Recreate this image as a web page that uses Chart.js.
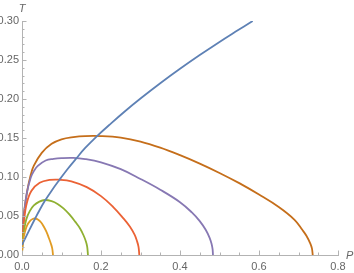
<!DOCTYPE html>
<html>
<head>
<meta charset="utf-8">
<script src="https://cdn.jsdelivr.net/npm/chart.js@4"></script>
<style>
html,body{margin:0;padding:0;background:#fff;}
#wrap{width:354px;height:273px;position:relative;}
</style>
</head>
<body>
<div id="wrap"><canvas id="c" width="354" height="273"></canvas></div>
<script>
// Axis ticks
const xTicks = [0, 0.2, 0.4, 0.6, 0.8];
const yTicks = [0, 0.05, 0.10, 0.15, 0.20, 0.25, 0.30];
const xLabel = "P";
const yLabel = "T";

// Series: [P, T]
const blueCurve = [[0,0.0128],[0.01,0.0232],[0.02,0.0335],[0.033,0.0465],[0.045,0.058],[0.058,0.0695],[0.075,0.0825],[0.095,0.0965],[0.115,0.11],[0.137,0.1235],[0.16,0.1372],[0.19,0.1525],[0.22,0.1663],[0.26,0.184],[0.30,0.2006],[0.35,0.2202],[0.40,0.2387],[0.45,0.2563],[0.50,0.2732],[0.54,0.2861],[0.584,0.30]];
const orangeArc = [[0,0],[0.001,0.011],[0.003,0.019],[0.0076,0.03],[0.013,0.038],[0.02,0.0435],[0.027,0.0462],[0.033,0.0468],[0.04,0.0455],[0.048,0.042],[0.055,0.0365],[0.062,0.0295],[0.068,0.0218],[0.073,0.0148],[0.0765,0.0085],[0.0785,0]];
const greenArc = [[0,0],[0.002,0.02],[0.005,0.031],[0.011,0.046],[0.02,0.0565],[0.03,0.0635],[0.044,0.0685],[0.058,0.0705],[0.075,0.069],[0.09,0.0655],[0.105,0.0598],[0.12,0.052],[0.135,0.0425],[0.147,0.034],[0.156,0.025],[0.162,0.017],[0.165,0.0107],[0.167,0]];
const redArc = [[0,0],[0.002,0.027],[0.005,0.043],[0.011,0.064],[0.0236,0.082],[0.0447,0.0925],[0.07,0.0962],[0.095,0.0965],[0.125,0.0945],[0.164,0.087],[0.2,0.0755],[0.231,0.0615],[0.255,0.048],[0.273,0.0365],[0.285,0.026],[0.291,0.018],[0.295,0.0105],[0.297,0]];
const purpleArc = [[0,0],[0.002,0.0335],[0.005,0.052],[0.012,0.079],[0.022,0.099],[0.03,0.1075],[0.04,0.1143],[0.06,0.1212],[0.08,0.1232],[0.1,0.1242],[0.13,0.1245],[0.16,0.123],[0.2,0.1188],[0.25,0.11],[0.3,0.0975],[0.35,0.0837],[0.4,0.0677],[0.43,0.0546],[0.45,0.0434],[0.465,0.0323],[0.475,0.022],[0.48,0.0141],[0.4825,0.0075],[0.4835,0]];
const brownArc = [[0,0],[0.002,0.035],[0.005,0.054],[0.0135,0.083],[0.022,0.1025],[0.03,0.1145],[0.05,0.131],[0.075,0.1425],[0.1,0.1483],[0.13,0.1512],[0.16,0.1525],[0.2,0.1525],[0.25,0.1505],[0.3,0.1455],[0.35,0.1377],[0.4,0.128],[0.45,0.1172],[0.5,0.1052],[0.55,0.0921],[0.6,0.0775],[0.65,0.0615],[0.69,0.0451],[0.71,0.032],[0.72,0.0247],[0.73,0.0147],[0.734,0.0085],[0.736,0]];

const series = [
  {data: blueCurve, color: '#5E81B5'},
  {data: orangeArc, color: '#E19C24'},
  {data: greenArc, color: '#8FB032'},
  {data: redArc, color: '#EB6235'},
  {data: purpleArc, color: '#8778B3'},
  {data: brownArc, color: '#C56E1A'}
];

const axisColor = '#b3b3b3';
const textColor = '#666666';
const fontFamily = '"Liberation Sans", Arial, sans-serif';

const tickPlugin = {
  id: 'mmaTicks',
  afterDraw(chart) {
    const ctx = chart.ctx;
    const xs = chart.scales.x, ys = chart.scales.y;
    const a = chart.chartArea;
    ctx.save();
    ctx.strokeStyle = axisColor;
    ctx.lineWidth = 1;
    ctx.beginPath();
    for (let i = 0; i <= 16; i++) {
      const v = i * 0.05;
      const px = Math.round(xs.getPixelForValue(v)) + 0.5;
      const len = (i % 4 === 0) ? 4.5 : 2.5;
      ctx.moveTo(px, a.bottom);
      ctx.lineTo(px, a.bottom - len);
    }
    for (let i = 0; i <= 30; i++) {
      const v = i * 0.01;
      const py = Math.round(ys.getPixelForValue(v)) + 0.5;
      const len = (i % 5 === 0) ? 4.5 : 2.5;
      ctx.moveTo(a.left, py);
      ctx.lineTo(a.left + len, py);
    }
    ctx.stroke();
    ctx.fillStyle = textColor;
    ctx.font = 'italic 11px ' + fontFamily;
    ctx.textAlign = 'center';
    ctx.textBaseline = 'alphabetic';
    ctx.fillText(yLabel, a.left, 12);
    ctx.textAlign = 'left';
    ctx.textBaseline = 'middle';
    ctx.fillText(xLabel, a.right + 8, a.bottom + 1);
    ctx.restore();
  }
};

new Chart(document.getElementById('c'), {
  type: 'scatter',
  data: {
    datasets: series.map(s => ({
      data: s.data.map(p => ({x: p[0], y: p[1]})),
      showLine: true,
      borderColor: s.color,
      backgroundColor: s.color,
      borderWidth: 1.8,
      pointRadius: 0,
      pointHoverRadius: 0,
      tension: 0.4,
      fill: false
    }))
  },
  options: {
    responsive: false,
    animation: false,
    events: [],
    layout: {padding: {top: 21, right: 16, left: 0, bottom: 0}},
    plugins: {legend: {display: false}, tooltip: {enabled: false}},
    scales: {
      x: {
        type: 'linear', min: 0, max: 0.8,
        afterBuildTicks: s => { s.ticks = xTicks.map(v => ({value: v})); },
        afterFit: s => { s.height = 18; },
        grid: {display: false, drawTicks: false},
        border: {display: true, color: axisColor, width: 1},
        ticks: {
          color: textColor, padding: 5, maxRotation: 0, autoSkip: false,
          font: {family: fontFamily, size: 11},
          callback: v => Number(v).toFixed(1)
        }
      },
      y: {
        type: 'linear', min: 0, max: 0.30,
        afterBuildTicks: s => { s.ticks = yTicks.map(v => ({value: v})); },
        afterFit: s => { s.width = 22; },
        grid: {display: false, drawTicks: false},
        border: {display: true, color: axisColor, width: 1},
        ticks: {
          color: textColor, padding: 3, autoSkip: false,
          font: {family: fontFamily, size: 11},
          callback: v => Number(v).toFixed(2)
        }
      }
    }
  },
  plugins: [tickPlugin]
});
</script>
</body>
</html>
